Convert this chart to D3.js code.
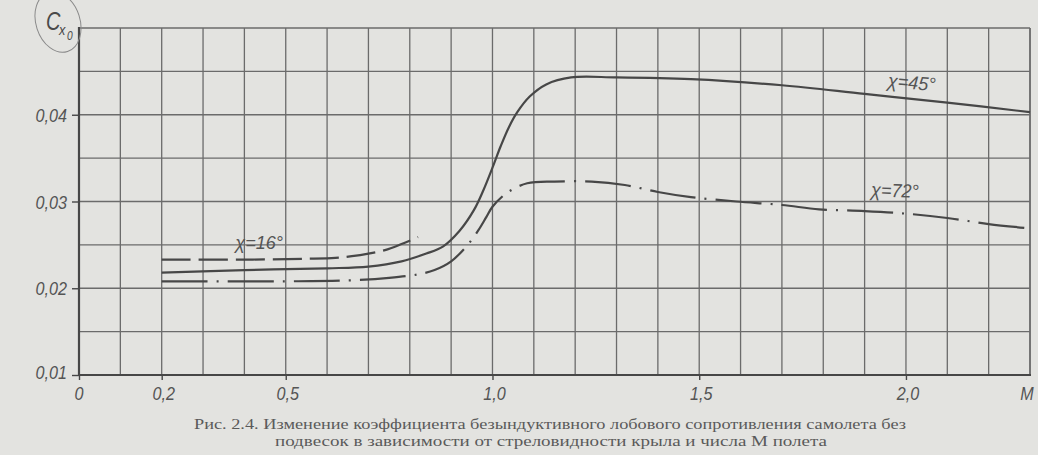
<!DOCTYPE html>
<html>
<head>
<meta charset="utf-8">
<script src="https://cdn.jsdelivr.net/npm/d3@7"></script>
<style>
  html, body { margin: 0; padding: 0; background: #e3e3e0; }
  svg { display: block; }
</style>
</head>
<body>
<svg id="chart" width="1038" height="455"></svg>
<script>
// ---- data ----
const mach16 = [0.2, 0.4, 0.55, 0.62, 0.66, 0.70, 0.74, 0.78, 0.82];
const cx16   = [0.0233, 0.0233, 0.0234, 0.0235, 0.0237, 0.0240, 0.0244, 0.0251, 0.0259];

const mach45 = [0.2, 0.4, 0.6, 0.7, 0.78, 0.84, 0.88, 0.92, 0.955, 0.978, 1.0, 1.02, 1.04, 1.06, 1.09, 1.13, 1.19, 1.3, 1.48, 1.7, 1.9, 2.1, 2.3];
const cx45   = [0.0218, 0.0221, 0.0223, 0.0225, 0.0231, 0.0240, 0.0248, 0.0266, 0.0290, 0.0313, 0.0339, 0.0364, 0.0386, 0.0403, 0.0421, 0.0435, 0.0443, 0.0443, 0.0441, 0.0434, 0.0424, 0.0414, 0.0403];

const mach72 = [0.2, 0.5, 0.65, 0.75, 0.82, 0.86, 0.9, 0.94, 0.966, 0.985, 1.0, 1.035, 1.084, 1.15, 1.24, 1.32, 1.40, 1.48, 1.59, 1.70, 1.79, 1.90, 2.0, 2.1, 2.2, 2.3];
const cx72   = [0.0208, 0.0208, 0.0209, 0.0212, 0.0216, 0.0221, 0.0231, 0.0250, 0.0267, 0.0282, 0.0294, 0.0310, 0.0321, 0.0323, 0.0323, 0.0319, 0.0311, 0.0305, 0.0300, 0.0296, 0.0291, 0.0289, 0.0286, 0.0281, 0.0274, 0.0269];

const seriesLabels = ["χ=16°", "χ=45°", "χ=72°"];

const xTickValues = [0, 0.2, 0.5, 1.0, 1.5, 2.0];
const xTickLabels = ["0", "0,2", "0,5", "1,0", "1,5", "2,0"];
const yTickValues = [0.01, 0.02, 0.03, 0.04];
const yTickLabels = ["0,01", "0,02", "0,03", "0,04"];
const xAxisTitle = "M";
const captionLines = [
  "Рис. 2.4. Изменение коэффициента безындуктивного лобового сопротивления самолета без",
  "подвесок в зависимости от стреловидности крыла и числа М полета"
];

// ---- layout ----
const svg = d3.select("#chart");
const ink = "#474747";
const gridInk = "#6b6b6b";
const textInk = "#555";
const labelFont = "'Liberation Sans', Arial, sans-serif";
const squeeze = 0.85;

const x = d3.scaleLinear().domain([0, 2.3]).range([79, 1030]);
const y = d3.scaleLinear().domain([0.01, 0.05]).range([375, 28]);

// grid
const xGrid = d3.range(0, 24).map(i => i / 10);
const yGrid = d3.range(0, 9).map(i => 0.01 + i * 0.005);

svg.append("g").selectAll("line").data(xGrid.slice(1)).join("line")
  .attr("x1", d => x(d)).attr("x2", d => x(d))
  .attr("y1", y(0.05)).attr("y2", y(0.01))
  .attr("stroke", gridInk).attr("stroke-width", 1.3);
svg.append("line")
  .attr("x1", x(2.3)).attr("x2", x(2.3)).attr("y1", y(0.05)).attr("y2", y(0.01))
  .attr("stroke", gridInk).attr("stroke-width", 1.5);
svg.append("g").selectAll("line").data(yGrid.slice(1)).join("line")
  .attr("x1", x(0)).attr("x2", x(2.3))
  .attr("y1", d => y(d)).attr("y2", d => y(d))
  .attr("stroke", gridInk).attr("stroke-width", 1.3);

// axes
const xAxis = d3.axisBottom(x).tickValues(xTickValues).tickSize(5).tickFormat("");
const gx = svg.append("g").attr("transform", `translate(0,${y(0.01)})`).call(xAxis);
gx.select(".domain").remove();
gx.selectAll(".tick line").attr("stroke", ink).attr("stroke-width", 1.4);
svg.append("line").attr("x1", x(0) - 1).attr("x2", x(2.3) + 1)
  .attr("y1", y(0.01)).attr("y2", y(0.01)).attr("stroke", ink).attr("stroke-width", 2.2);

const yAxis = d3.axisLeft(y).tickValues(yTickValues).tickSize(7).tickFormat("");
const gy = svg.append("g").attr("transform", `translate(${x(0)},0)`).call(yAxis);
gy.select(".domain").remove();
gy.selectAll(".tick line").attr("stroke", ink).attr("stroke-width", 1.4);
svg.append("line").attr("x1", x(0)).attr("x2", x(0))
  .attr("y1", y(0.05) - 1).attr("y2", y(0.01) + 1).attr("stroke", ink).attr("stroke-width", 2.2);

// tick labels (condensed italic, like the drafting font)
svg.append("g").selectAll("text").data(xTickValues).join("text")
  .attr("transform", (d, i) => `translate(${x(d) + (i === 0 ? 0 : 2)},400) scale(${squeeze},1)`)
  .attr("text-anchor", "middle")
  .attr("font-family", labelFont).attr("font-style", "italic")
  .attr("font-size", 19).attr("fill", textInk)
  .text((d, i) => xTickLabels[i]);
svg.append("text")
  .attr("transform", `translate(${x(2.3) - 3},400) scale(${squeeze},1)`)
  .attr("text-anchor", "middle")
  .attr("font-family", labelFont).attr("font-style", "italic")
  .attr("font-size", 19).attr("fill", textInk).text(xAxisTitle);

svg.append("g").selectAll("text").data(yTickValues).join("text")
  .attr("transform", (d, i) => `translate(67,${y(d) + 7 - (i === 0 ? 3 : 0)}) scale(${squeeze},1)`)
  .attr("text-anchor", "end")
  .attr("font-family", labelFont).attr("font-style", "italic")
  .attr("font-size", 19).attr("fill", textInk)
  .text((d, i) => yTickLabels[i]);

// y axis title C x0 with hand-drawn circle
svg.append("ellipse")
  .attr("cx", 58).attr("cy", 22).attr("rx", 22).attr("ry", 31)
  .attr("transform", "rotate(-18,58,22)")
  .attr("fill", "none").attr("stroke", "#8a8a8a").attr("stroke-width", 1);
svg.append("text").attr("transform", "translate(46,30) scale(0.8,1)")
  .attr("font-family", labelFont).attr("font-style", "italic").attr("fill", "#4a4a4a")
  .attr("font-size", 25).text("C");
svg.append("text").attr("transform", "translate(59,35) scale(0.85,1)")
  .attr("font-family", labelFont).attr("font-style", "italic").attr("fill", "#4a4a4a")
  .attr("font-size", 15).text("x");
svg.append("text").attr("transform", "translate(67,40) scale(0.85,1)")
  .attr("font-family", labelFont).attr("font-style", "italic").attr("fill", "#4a4a4a")
  .attr("font-size", 12).text("0");

// curves
const line = d3.line().x(d => x(d[0])).y(d => y(d[1])).curve(d3.curveCatmullRom.alpha(0.5));
const s16 = mach16.map((m, i) => [m, cx16[i]]);
const s45 = mach45.map((m, i) => [m, cx45[i]]);
const s72 = mach72.map((m, i) => [m, cx72[i]]);

svg.append("path").datum(s45).attr("d", line)
  .attr("fill", "none").attr("stroke", ink).attr("stroke-width", 2.2);
svg.append("path").datum(s16).attr("d", line)
  .attr("fill", "none").attr("stroke", ink).attr("stroke-width", 2.2)
  .attr("stroke-dasharray", "29,8");
svg.append("path").datum(s72).attr("d", line)
  .attr("fill", "none").attr("stroke", ink).attr("stroke-width", 2.2)
  .attr("stroke-dasharray", "46,9,2,9");

// curve labels
const lab = [
  { t: seriesLabels[0], m: 0.378, c: 0.0245, r: 0 },
  { t: seriesLabels[1], m: 1.955, c: 0.0432, r: 5 },
  { t: seriesLabels[2], m: 1.915, c: 0.0306, r: 2 }
];
svg.append("g").selectAll("text").data(lab).join("text")
  .attr("transform", d => `translate(${x(d.m)},${y(d.c)}) rotate(${d.r}) scale(0.95,1)`)
  .attr("font-family", labelFont).attr("font-style", "italic")
  .attr("font-size", 19).attr("fill", textInk)
  .text(d => d.t);

// caption
const capX = [194, 275], capW = [712, 552], capY = [429, 446];
svg.append("g").selectAll("text").data(captionLines).join("text")
  .attr("x", (d, i) => capX[i]).attr("y", (d, i) => capY[i])
  .attr("textLength", (d, i) => capW[i]).attr("lengthAdjust", "spacingAndGlyphs")
  .attr("font-family", "'Liberation Serif', 'DejaVu Serif', serif")
  .attr("font-size", 15).attr("fill", "#5a5a5a")
  .text(d => d);
</script>
</body>
</html>
